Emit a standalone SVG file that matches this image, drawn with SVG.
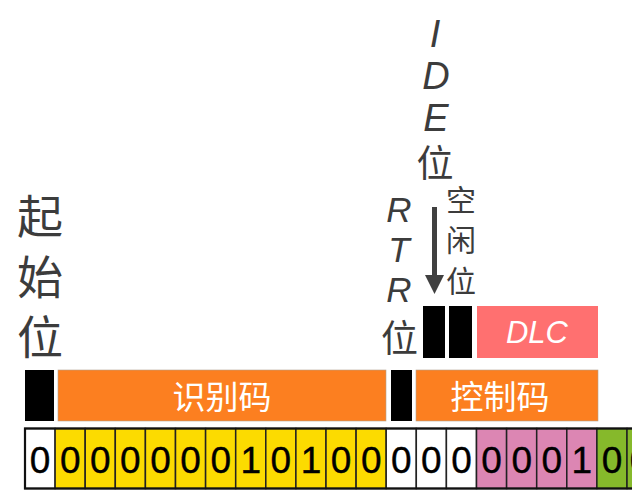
<svg xmlns="http://www.w3.org/2000/svg" width="632" height="499" viewBox="0 0 632 499">
<style>
.lbl{font-family:"Liberation Sans","Noto Sans CJK SC",sans-serif;fill:#3c3c3c;text-anchor:middle}
.it{font-style:italic}
.cjk{font-family:"Noto Sans CJK SC","Liberation Sans",sans-serif}
.wt{font-family:"Noto Sans CJK SC",sans-serif;fill:#ffffff;text-anchor:middle;font-size:33px}
.dg{font-family:"Liberation Sans",sans-serif;font-size:37px;fill:#000;stroke:#000;stroke-width:0.4;text-anchor:middle}
.cell{stroke:#222;stroke-width:1.5}
.y{fill:#FCDB00}.w{fill:#ffffff}.p{fill:#DC86B3}.g{fill:#86B92B}
.or{fill:#FC7F20;stroke:#b0a090;stroke-width:0.6}
.bk{fill:#000}
</style>
<rect width="632" height="499" fill="#ffffff"/>
<g id="start-label" class="lbl cjk" font-size="46">
<text x="40" y="233">起</text>
<text x="40" y="294">始</text>
<text x="40" y="354">位</text>
</g>
<g id="ide-label" class="lbl" font-size="38">
<text class="it" x="435" y="47">I</text>
<text class="it" x="436" y="89">D</text>
<text class="it" x="436" y="131">E</text>
<text class="cjk" x="435" y="177" font-size="37">位</text>
</g>
<g id="rtr-label" class="lbl" font-size="35">
<text class="it" x="399" y="222">R</text>
<text class="it" x="399" y="262">T</text>
<text class="it" x="399" y="302">R</text>
<text class="cjk" x="399.5" y="352" font-size="37">位</text>
</g>
<g id="idle-label" class="lbl cjk" font-size="30">
<text x="461" y="211">空</text>
<text x="461" y="251">闲</text>
<text x="461" y="292">位</text>
</g>
<g id="connectors">
<line x1="434.5" y1="207" x2="434.5" y2="277" stroke="#404040" stroke-width="5"/>
<polygon points="425,275 444,275 434.5,294" fill="#404040"/>
</g>
<g id="ide-bit"><rect class="bk" x="423" y="306" width="22" height="52"/></g>
<g id="r0-bit"><rect class="bk" x="449" y="306" width="23" height="52"/></g>
<g id="dlc">
<rect x="477" y="306" width="121" height="52" fill="#FF7070"/>
<text x="537" y="343" font-family="Liberation Sans,sans-serif" font-style="italic" font-size="31" fill="#ffffff" text-anchor="middle">DLC</text>
</g>
<g id="sof-bit"><rect class="bk" x="25" y="370" width="29" height="51"/></g>
<g id="identifier">
<rect class="or" x="58" y="370" width="328" height="51"/>
<text class="wt" x="222" y="409" font-size="34">识别码</text>
</g>
<g id="rtr-bit"><rect class="bk" x="391" y="370" width="21" height="51"/></g>
<g id="control">
<rect class="or" x="416" y="370" width="182" height="51"/>
<text class="wt" x="500" y="409">控制码</text>
</g>
<g id="bits">
<rect class="cell w" x="25" y="428.5" width="30.1" height="60"/>
<rect class="cell y" x="55.1" y="428.5" width="30.1" height="60"/>
<rect class="cell y" x="85.2" y="428.5" width="30.1" height="60"/>
<rect class="cell y" x="115.3" y="428.5" width="30.1" height="60"/>
<rect class="cell y" x="145.4" y="428.5" width="30.1" height="60"/>
<rect class="cell y" x="175.5" y="428.5" width="30.1" height="60"/>
<rect class="cell y" x="205.6" y="428.5" width="30.1" height="60"/>
<rect class="cell y" x="235.7" y="428.5" width="30.1" height="60"/>
<rect class="cell y" x="265.8" y="428.5" width="30.1" height="60"/>
<rect class="cell y" x="295.9" y="428.5" width="30.1" height="60"/>
<rect class="cell y" x="326" y="428.5" width="30.1" height="60"/>
<rect class="cell y" x="356.1" y="428.5" width="30.1" height="60"/>
<rect class="cell w" x="386.2" y="428.5" width="30.1" height="60"/>
<rect class="cell w" x="416.3" y="428.5" width="30.1" height="60"/>
<rect class="cell w" x="446.4" y="428.5" width="30.1" height="60"/>
<rect class="cell p" x="476.5" y="428.5" width="30.1" height="60"/>
<rect class="cell p" x="506.6" y="428.5" width="30.1" height="60"/>
<rect class="cell p" x="536.7" y="428.5" width="30.1" height="60"/>
<rect class="cell p" x="566.8" y="428.5" width="30.1" height="60"/>
<rect class="cell g" x="596.9" y="428.5" width="30.1" height="60"/>
<rect class="cell g" x="627" y="428.5" width="30.1" height="60"/>
<rect x="25" y="428.5" width="640" height="60" fill="none" stroke="#111" stroke-width="2.2"/>
<text class="dg" x="40" y="472.5">0</text>
<text class="dg" x="70.2" y="472.5">0</text>
<text class="dg" x="100.3" y="472.5">0</text>
<text class="dg" x="130.4" y="472.5">0</text>
<text class="dg" x="160.5" y="472.5">0</text>
<text class="dg" x="190.6" y="472.5">0</text>
<text class="dg" x="220.7" y="472.5">0</text>
<text class="dg" x="250.8" y="472.5">1</text>
<text class="dg" x="280.9" y="472.5">0</text>
<text class="dg" x="311" y="472.5">1</text>
<text class="dg" x="341.1" y="472.5">0</text>
<text class="dg" x="371.2" y="472.5">0</text>
<text class="dg" x="401.3" y="472.5">0</text>
<text class="dg" x="431.4" y="472.5">0</text>
<text class="dg" x="461.5" y="472.5">0</text>
<text class="dg" x="491.6" y="472.5">0</text>
<text class="dg" x="521.7" y="472.5">0</text>
<text class="dg" x="551.8" y="472.5">0</text>
<text class="dg" x="581.9" y="472.5">1</text>
<text class="dg" x="612" y="472.5">0</text>
<text class="dg" x="640" y="472.5">0</text>
</g>
</svg>
